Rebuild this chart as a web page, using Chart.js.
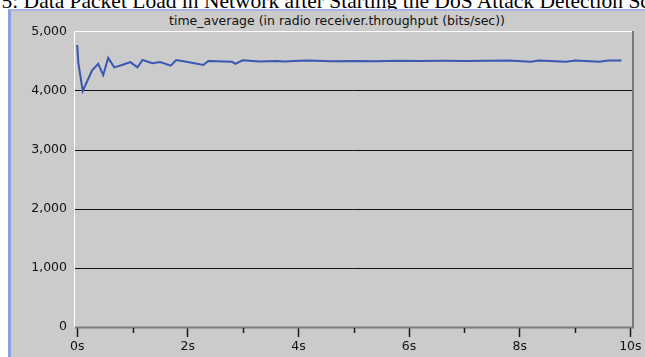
<!DOCTYPE html>
<html>
<head>
<meta charset="utf-8">
<script src="https://cdn.jsdelivr.net/npm/chart.js@4"></script>
<style>
  html, body { margin: 0; padding: 0; background: #ffffff; }
  body { width: 645px; height: 357px; position: relative; overflow: hidden; }
  #caption {
    position: absolute; left: -60px; top: -11px; white-space: nowrap;
    font-family: "Liberation Serif", "DejaVu Serif", serif; font-size: 21.5px; color: #000;
  }
  #panel {
    position: absolute; left: 8px; top: 9px; right: -10px; bottom: -10px;
    background: #cbcbcb; border-left: 3px solid #8e9fdc; border-top: 2px solid #a9b5e6;
  }
  #title {
    position: absolute; left: 0; width: 674px; top: 14px; line-height: 14px; text-align: center;
    font-family: "DejaVu Sans", sans-serif; font-size: 12.5px; color: #111; white-space: nowrap;
  }
  #wrap { position: absolute; left: 0; top: 0; width: 645px; height: 357px; }
</style>
</head>
<body>
<div id="caption">Figure 5: Data Packet Load in Network after Starting the DoS Attack Detection Scheme</div>
<div id="panel"></div>
<div id="title">time_average (in radio receiver.throughput (bits/sec))</div>
<div id="wrap"><canvas id="chart" width="645" height="357"></canvas></div>
<script>
// throughput over time (seconds -> bits/sec)
const times = [0, 0.02, 0.1, 0.27, 0.38, 0.47, 0.56, 0.67, 0.81, 0.96, 1.09, 1.18, 1.36, 1.5,
  1.69, 1.79, 2.0, 2.28, 2.37, 2.8, 2.86, 2.99, 3.3, 3.59, 3.75, 3.92, 4.17, 4.6, 5.0, 5.4,
  5.8, 6.2, 6.6, 7.0, 7.4, 7.8, 8.2, 8.35, 8.84, 9.0, 9.44, 9.6, 9.84];
const throughput = [4780, 4480, 4000, 4350, 4460, 4270, 4560, 4400, 4440, 4490, 4400, 4525, 4470, 4490,
  4430, 4525, 4490, 4440, 4510, 4495, 4460, 4520, 4500, 4510, 4500, 4510, 4515, 4505, 4510, 4505,
  4512, 4508, 4512, 4510, 4512, 4515, 4495, 4515, 4495, 4515, 4495, 4515, 4515];
const xTicks = [0, 1, 2, 3, 4, 5, 6, 7, 8, 9, 10];
const yTicks = [0, 1000, 2000, 3000, 4000, 5000];

const points = times.map((t, i) => ({ x: t, y: throughput[i] }));

// border of the plot box + short minor ticks
const framePlugin = {
  id: 'frame',
  afterDraw(chart) {
    const { ctx, chartArea: a, scales } = chart;
    ctx.save();
    ctx.lineWidth = 1;
    ctx.strokeStyle = '#ffffff';
    ctx.beginPath();
    ctx.moveTo(a.left - 0.5, a.bottom);
    ctx.lineTo(a.left - 0.5, a.top - 0.5);
    ctx.lineTo(a.right, a.top - 0.5);
    ctx.stroke();
    ctx.strokeStyle = '#7a7a7a';
    ctx.lineWidth = 2;
    ctx.beginPath();
    ctx.moveTo(a.left, a.bottom + 0.5);
    ctx.lineTo(a.right + 1, a.bottom + 0.5);
    ctx.lineTo(a.right + 1, a.top - 1);
    ctx.stroke();
    ctx.strokeStyle = '#1a1a1a';
    ctx.lineWidth = 1.5;
    xTicks.filter(v => v % 2 === 1).forEach(v => {
      const px = Math.round(scales.x.getPixelForValue(v)) + 0.5;
      ctx.beginPath();
      ctx.moveTo(px, a.bottom + 1);
      ctx.lineTo(px, a.bottom + 6);
      ctx.stroke();
    });
    ctx.restore();
  }
};

const tickFont = { family: 'DejaVu Sans', size: 12.5 };

new Chart(document.getElementById('chart'), {
  type: 'line',
  data: {
    datasets: [{
      data: points,
      borderColor: '#3b56b3',
      borderWidth: 2,
      pointRadius: 0,
      tension: 0,
      fill: false
    }]
  },
  options: {
    responsive: false,
    animation: false,
    layout: { padding: { top: 32, right: 13, bottom: 0, left: 0 } },
    plugins: {
      legend: { display: false },
      tooltip: { enabled: false },
      title: { display: false }
    },
    scales: {
      x: {
        type: 'linear',
        min: -0.04,
        max: 10.03,
        afterBuildTicks: s => { s.ticks = xTicks.map(v => ({ value: v })); },
        afterFit: s => { s.height = 30; },
        border: { display: false },
        grid: {
          drawOnChartArea: false,
          tickLength: 10,
          tickWidth: 1.5,
          tickColor: c => (c.tick && c.tick.value % 2 === 0) ? '#1a1a1a' : 'rgba(0,0,0,0)'
        },
        ticks: {
          color: '#111',
          font: tickFont,
          padding: 2,
          maxRotation: 0,
          autoSkip: false,
          callback: v => (v % 2 === 0 ? v + 's' : '')
        }
      },
      y: {
        min: 0,
        max: 5000,
        afterBuildTicks: s => { s.ticks = yTicks.map(v => ({ value: v })); },
        afterFit: s => { s.width = 75; },
        border: { display: false },
        grid: {
          drawTicks: false,
          lineWidth: 1,
          color: c => (c.tick && c.tick.value > 0 && c.tick.value < 5000) ? '#111111' : 'rgba(0,0,0,0)'
        },
        ticks: {
          color: '#111',
          font: tickFont,
          padding: 8,
          callback: v => v.toLocaleString('en-US')
        }
      }
    }
  },
  plugins: [framePlugin]
});
</script>
</body>
</html>
